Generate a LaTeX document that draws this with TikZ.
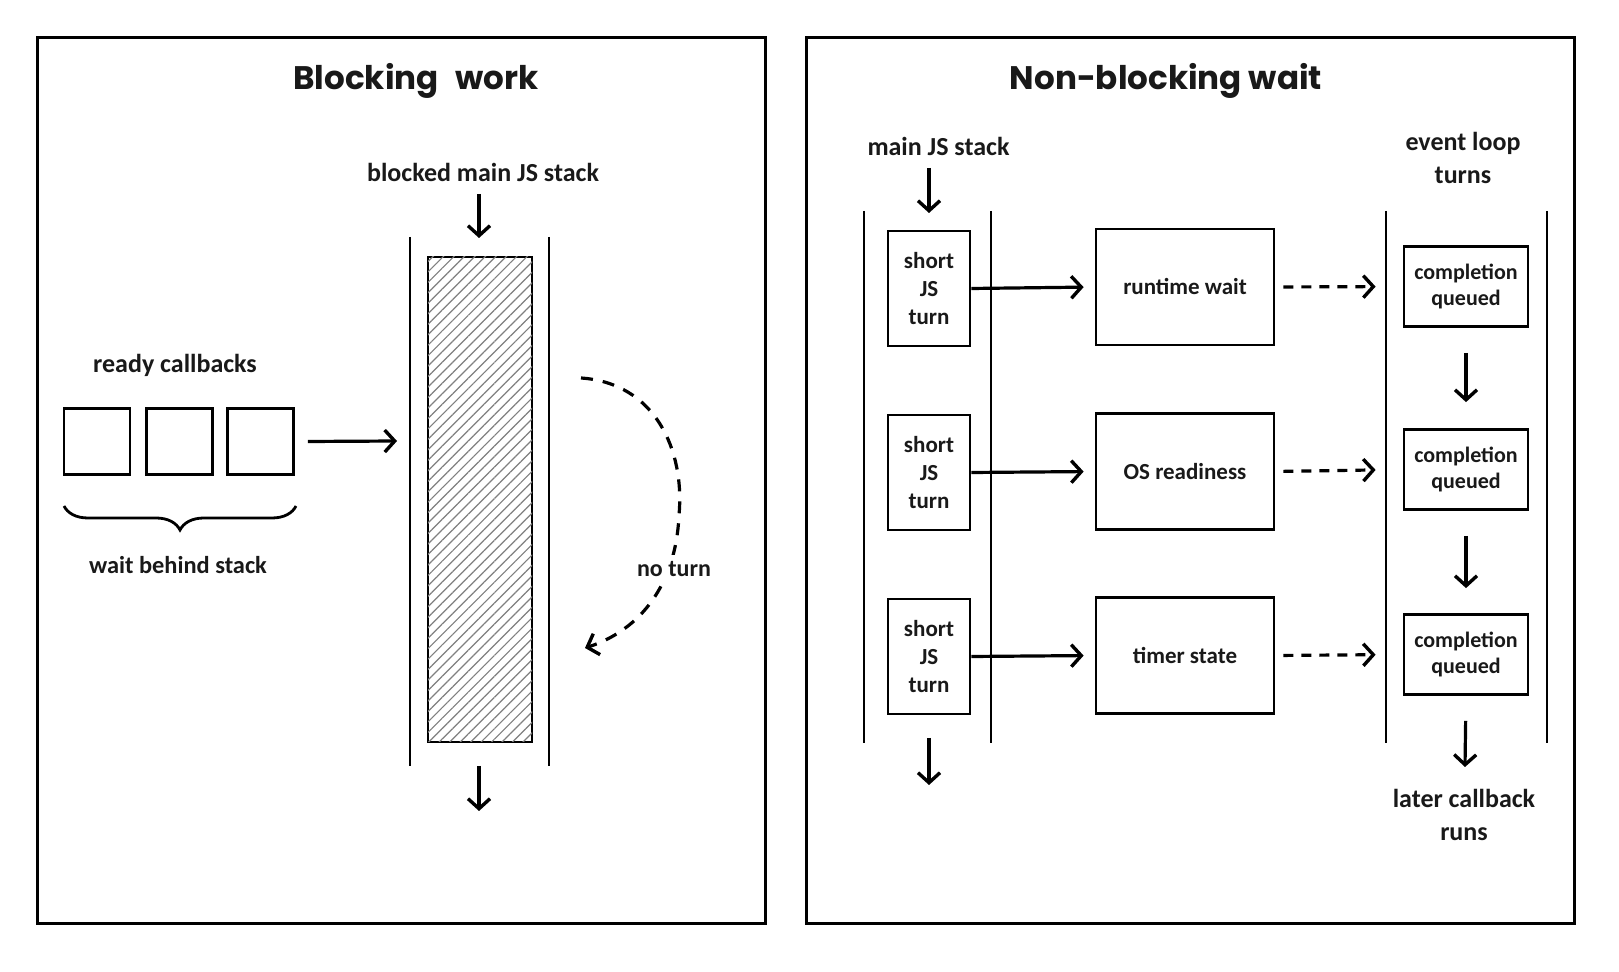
\documentclass[tikz,border=0pt]{standalone}
\usepackage{fontspec}
\setmainfont{Carlito}
\newfontfamily\titlefont{Poppins}
\usetikzlibrary{arrows.meta,patterns.meta,decorations.pathreplacing}
\newcommand{\lblfont}{\bfseries\fontsize{11.5}{14}\selectfont}
\newcommand{\smallfont}{\bfseries\fontsize{11}{13.3}\selectfont}
\newcommand{\bigfont}{\bfseries\fontsize{13}{16.5}\selectfont}
\begin{document}
\begin{tikzpicture}[x=0.5pt,y=-0.5pt,line width=1.4pt,
  arr/.style={line width=1.6pt,-{Straight Barb[length=5pt,width=11pt,line width=1.7pt]}},
  dasharr/.style={arr,dash pattern=on 5pt off 4pt},
  panel/.style={draw,line width=1.5pt,inner sep=0pt,minimum width=#1},
  boxn/.style={draw,inner sep=0pt,align=center,font=\lblfont,text=black!90},
  lbltext/.style={align=center,font=\bigfont,text=black!90,inner sep=1pt},
  titletext/.style={font=\titlefont\bfseries\fontsize{16.3}{19}\selectfont,text=black!90},
  hatchbox/.style={draw,inner sep=0pt,fill=white,
    postaction={pattern={Lines[angle=45,distance=3.7pt,line width=0.6pt]},pattern color=black!50}},
  wall/.style={line width=1.4pt}
]
\useasboundingbox (0,0) rectangle (1619,972);
\fill[white] (0,0) rectangle (1619,972);

% ---------- left panel ----------
\node[panel=364pt,minimum height=443pt] (lp) at (401,481) {};
\node[titletext] (lt) at (416,81) {Blocking\hspace{5pt} work};
\node[lbltext] (bl) at (483,172) {blocked main JS stack};
\coordinate (bin0) at (479,194);
\coordinate (bin1) at (479,238);
\draw[arr] (bin0) -- (bin1);
\draw[wall] (410,237) -- (410,766);
\draw[wall] (549,237) -- (549,766);
\node[hatchbox,minimum width=52pt,minimum height=242.5pt] (hs) at (480,499.5) {};
\coordinate (bout0) at (479,766);
\coordinate (bout1) at (479,811);
\draw[arr] (bout0) -- (bout1);

\node[lbltext] (rc) at (175,365) {ready callbacks};
\node[boxn,minimum width=33pt,minimum height=33pt] (cb1) at (97,441.5) {};
\node[boxn,minimum width=33pt,minimum height=33pt] (cb2) at (179.5,441.5) {};
\node[boxn,minimum width=33pt,minimum height=33pt] (cb3) at (260.5,441.5) {};
\coordinate (qa) at (397,441);
\draw[arr] ([xshift=6.5pt]cb3.east) -- (qa);
\coordinate (br0) at (64,506);
\coordinate (br1) at (296,506);
\draw[line width=1.4pt,decorate,decoration={brace,mirror,amplitude=12pt}] (br0) -- (br1);
\node[lbltext,font=\bfseries\fontsize{12.2}{15}\selectfont] (wb) at (178,565) {wait behind stack};

\coordinate (nt0) at (581,378);
\coordinate (nt1) at (585,648);
\draw[arr,dash pattern=on 6pt off 5pt] (nt0) .. controls (655,383) and (685,450) .. (679,515)
   .. controls (676,585) and (640,630) .. (nt1);
\node[lbltext,fill=white,inner sep=3pt,font=\bfseries\fontsize{12}{14}\selectfont] (nt) at (674,569) {no turn};

% ---------- right panel ----------
\node[panel=384pt,minimum height=443pt] (rp) at (1190,481) {};
\node[titletext] (rt) at (1166,81) {Non-blocking wait};
\node[lbltext] (ms) at (938.5,146) {main JS stack};
\coordinate (min0) at (929,168);
\coordinate (min1) at (929,213);
\draw[arr] (min0) -- (min1);
\draw[wall] (864,211) -- (864,743);
\draw[wall] (991,211) -- (991,743);
\coordinate (mout0) at (929,738);
\coordinate (mout1) at (929,785);
\draw[arr] (mout0) -- (mout1);

\node[lbltext] (el) at (1463,158) {event loop\\turns};
\draw[wall] (1386,211) -- (1386,743);
\draw[wall] (1547,211) -- (1547,743);

\foreach \i/\ys/\ym/\yc/\txt in {1/288.5/287/286.5/runtime wait,2/472.5/471.5/469.5/OS readiness,3/656.5/655.5/654.5/timer state}{
  \node[boxn,minimum width=41pt,minimum height=57.5pt] (s\i) at (929,\ys) {short\\JS\\turn};
  \node[boxn,minimum width=89pt,minimum height=58pt] (m\i) at (1185,\ym) {\txt};
  \node[boxn,minimum width=62pt,minimum height=40pt,font=\smallfont] (c\i) at (1466,\yc) {completion\\queued};
  \draw[arr,shorten >=5.5pt] (s\i.east) -- (m\i.west);
  \draw[dasharr,shorten <=4pt,shorten >=13.5pt] (m\i.east) -- (c\i.west);
}
\draw[arr,shorten <=12.5pt,shorten >=13pt] (c1.south) -- (c2.north);
\draw[arr,shorten <=12.5pt,shorten >=12.5pt] (c2.south) -- (c3.north);
\coordinate (lc0) at (1465,767);
\draw[arr,shorten <=12.5pt] (c3.south) -- (lc0);
\node[lbltext] (lc) at (1464,815) {later callback\\runs};
\end{tikzpicture}
\end{document}
